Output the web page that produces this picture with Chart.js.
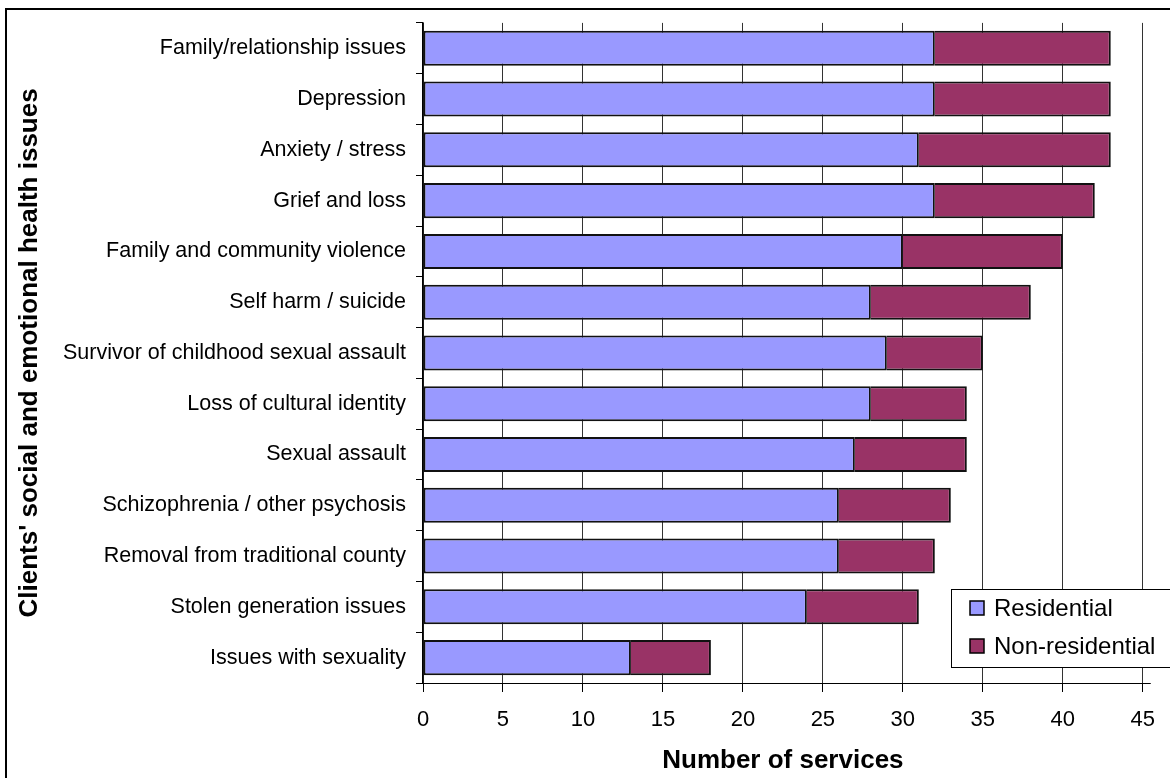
<!DOCTYPE html>
<html>
<head>
<meta charset="utf-8">
<title>Clients' social and emotional health issues</title>
<script src="https://cdn.jsdelivr.net/npm/chart.js@4.4.1/dist/chart.umd.min.js"></script>
<style>
    html, body { margin: 0; padding: 0; background: #fff; }
    #wrap { position: relative; width: 1170px; height: 778px; }
</style>
</head>
<body>
<div id="wrap"><canvas id="issues-chart" width="1170" height="778"></canvas></div>
<script>
const issues = [
    'Family/relationship issues',
    'Depression',
    'Anxiety / stress',
    'Grief and loss',
    'Family and community violence',
    'Self harm / suicide',
    'Survivor of childhood sexual assault',
    'Loss of cultural identity',
    'Sexual assault',
    'Schizophrenia / other psychosis',
    'Removal from traditional county',
    'Stolen generation issues',
    'Issues with sexuality'
];
const residential = [32, 32, 31, 32, 30, 28, 29, 28, 27, 26, 26, 24, 13];
const nonResidential = [11, 11, 12, 10, 10, 10, 6, 6, 7, 7, 6, 7, 5];
const xTicks = [0, 5, 10, 15, 20, 25, 30, 35, 40, 45];

const FONT = "'Liberation Sans', Arial, sans-serif";

// outer frame + boxed legend sitting over the plot, Excel style
const frameAndLegend = {
    id: 'frameAndLegend',
    afterDraw(chart) {
        const ctx = chart.ctx;
        const area = chart.chartArea;
        ctx.save();
        ctx.strokeStyle = '#000';
        ctx.lineWidth = 2;
        ctx.beginPath();
        ctx.moveTo(6, 790);
        ctx.lineTo(6, 9);
        ctx.lineTo(1180, 9);
        ctx.stroke();

        // category axis line runs a little past the last tick
        ctx.lineWidth = 1;
        ctx.beginPath();
        ctx.moveTo(area.right, Math.round(area.bottom) + 0.5);
        ctx.lineTo(area.right + 8, Math.round(area.bottom) + 0.5);
        ctx.stroke();

        const box = { x: 951.5, y: 589.5, w: 240, h: 78 };
        ctx.fillStyle = '#fff';
        ctx.fillRect(box.x, box.y, box.w, box.h);
        ctx.strokeRect(box.x, box.y, box.w, box.h);

        ctx.font = '24px ' + FONT;
        ctx.textBaseline = 'middle';
        ctx.textAlign = 'left';
        chart.data.datasets.forEach(function (ds, i) {
            const cy = 608 + i * 38;
            ctx.fillStyle = ds.backgroundColor;
            ctx.fillRect(970, cy - 7, 14, 14);
            ctx.lineWidth = 1.5;
            ctx.strokeStyle = '#000';
            ctx.strokeRect(970, cy - 7, 14, 14);
            ctx.fillStyle = '#000';
            ctx.fillText(ds.label, 994, cy + 1);
        });
        ctx.restore();
    }
};

new Chart(document.getElementById('issues-chart').getContext('2d'), {
    type: 'bar',
    data: {
        labels: issues,
        datasets: [
            {
                label: 'Residential',
                data: residential,
                backgroundColor: '#9999FF',
                borderColor: '#111',
                borderWidth: 2,
                borderSkipped: false
            },
            {
                label: 'Non-residential',
                data: nonResidential,
                backgroundColor: '#993366',
                borderColor: '#111',
                borderWidth: 2,
                borderSkipped: 'left'
            }
        ]
    },
    options: {
        indexAxis: 'y',
        responsive: false,
        animation: false,
        categoryPercentage: 1,
        barPercentage: 0.69,
        layout: { padding: { top: 9, right: 23, bottom: 0, left: 0 } },
        scales: {
            x: {
                stacked: true,
                min: 0,
                max: 45,
                afterBuildTicks: function (scale) {
                    scale.ticks = xTicks.map(v => ({ value: v }));
                },
                afterFit: function (scale) { scale.height = 95; },
                grid: { color: '#333', lineWidth: 1, tickLength: 9, tickColor: '#000' },
                border: { color: '#000', width: 1 },
                ticks: {
                    color: '#000',
                    padding: 15,
                    font: { family: FONT, size: 22 }
                },
                title: {
                    display: true,
                    text: 'Number of services',
                    color: '#000',
                    padding: { top: 0, bottom: 2 },
                    font: { family: FONT, size: 26, weight: 'bold' }
                }
            },
            y: {
                stacked: true,
                afterFit: function (scale) { scale.width = 423; },
                grid: {
                    offset: true,
                    drawOnChartArea: false,
                    drawTicks: true,
                    tickLength: 7,
                    tickColor: '#000'
                },
                border: { color: '#000', width: 1.5 },
                ticks: {
                    color: '#000',
                    padding: 10,
                    autoSkip: false,
                    font: { family: FONT, size: 21.5 }
                },
                title: {
                    display: true,
                    text: "Clients' social and emotional health issues",
                    color: '#000',
                    padding: { top: 14, bottom: 0 },
                    font: { family: FONT, size: 26, weight: 'bold' }
                }
            }
        },
        plugins: {
            legend: { display: false },
            tooltip: { enabled: false }
        }
    },
    plugins: [frameAndLegend]
});
</script>
</body>
</html>
